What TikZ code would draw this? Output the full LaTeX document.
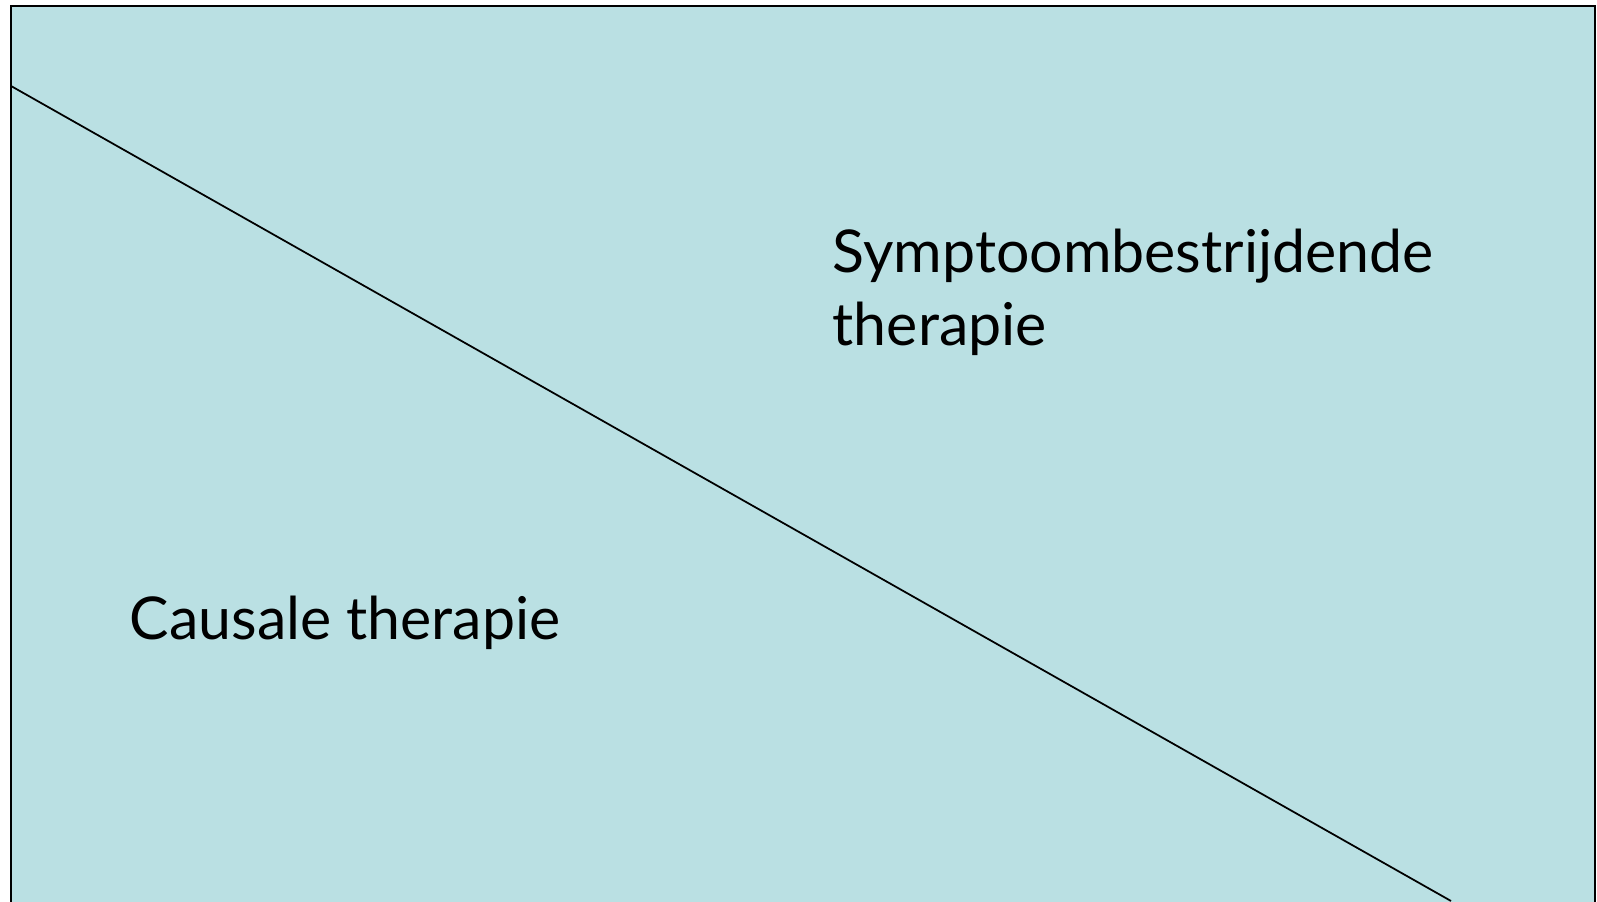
\documentclass[tikz,border=0pt]{standalone}
\usepackage{fontspec}
\setmainfont{Lato}
\definecolor{panelCyan}{RGB}{186, 224, 227}
\tikzset{
  panelText/.style={font=\fontsize{16.8}{20.8}\selectfont,align=left,anchor=base west,inner sep=0pt}
}
\begin{document}
\begin{tikzpicture}
            \useasboundingbox (0,0) rectangle (15.97,9.01);
            \clip (0,0) rectangle (15.97,9.01);
            % Panel
            \draw[fill=panelCyan,line width=0.8pt] (0.11,-0.5) rectangle (15.95,8.95);
            
            % Dividing line
            \coordinate (lineStart) at (0.11,8.15);
            \coordinate (lineEnd) at (14.51,0);
            \draw[line width=0.5pt] (lineStart) -- (lineEnd);
            
            % Labels
            \node[panelText] (symptom) at (8.32,5.55) {Symptoombestrijdende\\therapie};
            \node[panelText] (causal) at (1.29,2.61) {Causale therapie};
        \end{tikzpicture}
\end{document}
